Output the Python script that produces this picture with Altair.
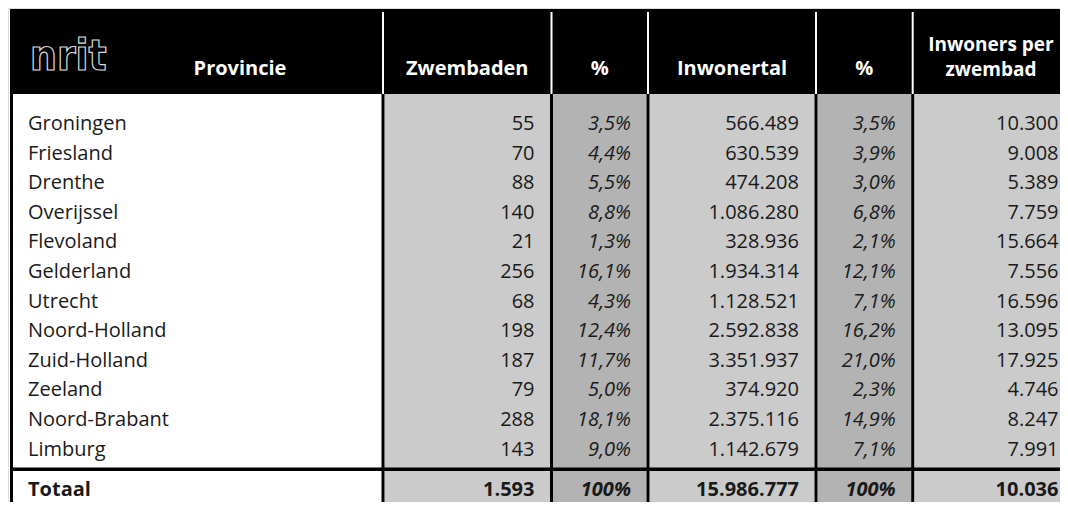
import altair as alt
import pandas as pd

# ---------------- data ----------------
provincies = ["Groningen", "Friesland", "Drenthe", "Overijssel", "Flevoland", "Gelderland",
              "Utrecht", "Noord-Holland", "Zuid-Holland", "Zeeland", "Noord-Brabant", "Limburg"]
zwembaden = [55, 70, 88, 140, 21, 256, 68, 198, 187, 79, 288, 143]
zwembaden_pct = ["3,5%", "4,4%", "5,5%", "8,8%", "1,3%", "16,1%", "4,3%", "12,4%", "11,7%", "5,0%", "18,1%", "9,0%"]
inwonertal = [566489, 630539, 474208, 1086280, 328936, 1934314, 1128521, 2592838, 3351937, 374920, 2375116, 1142679]
inwonertal_pct = ["3,5%", "3,9%", "3,0%", "6,8%", "2,1%", "12,1%", "7,1%", "16,2%", "21,0%", "2,3%", "14,9%", "7,1%"]
inwoners_per_zwembad = [10300, 9008, 5389, 7759, 15664, 7556, 16596, 13095, 17925, 4746, 8247, 7991]
totaal_label = "Totaal"
totaal_zwembaden = 1593
totaal_zwembaden_pct = "100%"
totaal_inwonertal = 15986777
totaal_inwonertal_pct = "100%"
totaal_per_zwembad = 10036
header_labels = ["Provincie", "Zwembaden", "%", "Inwonertal", "%", "Inwoners per\nzwembad"]
logo_text = "nrit"

# ---------------- layout ----------------
W, H = 1052, 494
LEFT = 2
SEPS = [375, 543.5, 640, 808, 904.7]          # column separator centres
HEADER_TOP, HEADER_BOTTOM = 1, 86
ROW0, ROW_STEP = 122, 29.6
TOTAL_LINE = (459.5, 463)
TOTAL_BASE = 488
RIGHT_PAD = 17
LIGHT, DARK = "#cbcbcb", "#b3b3b3"
FONT = "Open Sans"


def fmt(v):
    return f"{v:,}".replace(",", ".")


col_bounds = [LEFT + 3] + SEPS + [W + 20]
col_fill = ["#ffffff", LIGHT, DARK, LIGHT, DARK, LIGHT]

rects = []
rects.append(dict(x=LEFT, x2=W, y=HEADER_TOP, y2=HEADER_BOTTOM, c="#000000"))
for i in range(1, 6):
    rects.append(dict(x=col_bounds[i] + 1.5, x2=min(col_bounds[i + 1] - 1.5, W),
                      y=HEADER_BOTTOM, y2=H, c=col_fill[i]))
rects.append(dict(x=LEFT, x2=LEFT + 3, y=HEADER_TOP, y2=H, c="#000000"))
for s in SEPS:
    rects.append(dict(x=s - 1.5, x2=s + 1.5, y=HEADER_BOTTOM, y2=H, c="#000000"))
    rects.append(dict(x=s - 1, x2=s + 1, y=HEADER_TOP + 3, y2=HEADER_BOTTOM, c="#ffffff"))
rects.append(dict(x=LEFT, x2=W, y=TOTAL_LINE[0], y2=TOTAL_LINE[1], c="#000000"))
rect_df = pd.DataFrame(rects)

xs = alt.Scale(domain=[0, W], nice=False, zero=False)
ys = alt.Scale(domain=[0, H], nice=False, zero=False, reverse=True)


def X(f="x"):
    return alt.X(f"{f}:Q", scale=xs, axis=None)


def Y(f="y"):
    return alt.Y(f"{f}:Q", scale=ys, axis=None)


base_rect = alt.Chart(rect_df).mark_rect(strokeWidth=0).encode(
    x=X("x"), x2="x2:Q", y=Y("y"), y2="y2:Q",
    color=alt.Color("c:N", scale=None)
)

rights = [s - RIGHT_PAD for s in SEPS[1:]] + [W - 1.5]

# body rows
names_df = pd.DataFrame(dict(x=[LEFT + 18] * 12,
                             y=[ROW0 + i * ROW_STEP for i in range(12)],
                             t=provincies))
num_rows, pct_rows = [], []
for i in range(12):
    yy = ROW0 + i * ROW_STEP
    num_rows.append(dict(x=rights[0], y=yy, t=fmt(zwembaden[i])))
    pct_rows.append(dict(x=rights[1], y=yy, t=zwembaden_pct[i]))
    num_rows.append(dict(x=rights[2], y=yy, t=fmt(inwonertal[i])))
    pct_rows.append(dict(x=rights[3], y=yy, t=inwonertal_pct[i]))
    num_rows.append(dict(x=rights[4], y=yy, t=fmt(inwoners_per_zwembad[i])))
num_df = pd.DataFrame(num_rows)
pct_df = pd.DataFrame(pct_rows)

tot_label_df = pd.DataFrame(dict(x=[LEFT + 18], y=[TOTAL_BASE], t=[totaal_label]))
tot_num_df = pd.DataFrame(dict(x=[rights[0], rights[2], rights[4]], y=[TOTAL_BASE] * 3,
                               t=[fmt(totaal_zwembaden), fmt(totaal_inwonertal), fmt(totaal_per_zwembad)]))
tot_pct_df = pd.DataFrame(dict(x=[rights[1], rights[3]], y=[TOTAL_BASE] * 2,
                               t=[totaal_zwembaden_pct, totaal_inwonertal_pct]))

# header
hdr_x = [232, (SEPS[0] + SEPS[1]) / 2, (SEPS[1] + SEPS[2]) / 2, (SEPS[2] + SEPS[3]) / 2,
         (SEPS[3] + SEPS[4]) / 2, 983]
hdr_single = pd.DataFrame([dict(x=hx, y=67, t=lab) for hx, lab in zip(hdr_x, header_labels)
                           if "\n" not in lab])
hdr_multi = pd.DataFrame([dict(x=hx, y=43, t=lab) for hx, lab in zip(hdr_x, header_labels)
                          if "\n" in lab])
logo_df = pd.DataFrame(dict(x=[LEFT + 20], y=[62], t=[logo_text]))


def text_layer(df, align, weight="normal", style="normal", color="#1a1a1a", size=20, font=FONT, **kw):
    return alt.Chart(df).mark_text(align=align, baseline="alphabetic", font=font, fontSize=size,
                                   fontWeight=weight, fontStyle=style, color=color, **kw).encode(
        x=X("x"), y=Y("y"), text="t:N")


layers = [
    base_rect,
    text_layer(names_df, "left"),
    text_layer(num_df, "right"),
    text_layer(pct_df, "right", style="italic"),
    text_layer(tot_label_df, "left", weight="bold"),
    text_layer(tot_num_df, "right", weight="bold"),
    text_layer(tot_pct_df, "right", weight="bold", style="italic"),
    text_layer(hdr_single, "center", weight="bold", color="#ffffff", size=20),
    text_layer(hdr_multi, "center", weight="bold", color="#ffffff", size=19,
               lineBreak="\n", lineHeight=25),
    text_layer(logo_df, "left", weight="bold", color="#000000", size=42,
               font="DejaVu Sans Condensed", stroke="#d8d8d8", strokeWidth=1.2),
]

chart = alt.layer(*layers).properties(
    width=W, height=H, padding=0, autosize=alt.AutoSizeParams(type="none")
).configure_view(strokeWidth=0).configure(background="#ffffff")

chart.save("out.html", embed_options={"renderer": "svg", "actions": False})
